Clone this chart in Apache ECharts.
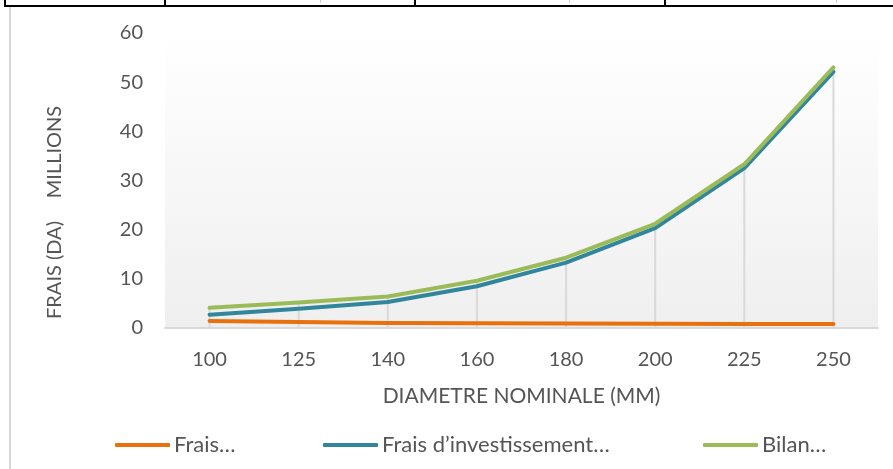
<!DOCTYPE html>
<html>
<head>
<meta charset="utf-8">
<script src="https://cdn.jsdelivr.net/npm/echarts@6/dist/echarts.min.js"></script>
<style>
  html, body { margin: 0; padding: 0; background: #ffffff; }
  #chart { width: 893px; height: 469px; }
</style>
</head>
<body>
<div id="chart"></div>
<script>
// Nominal diameters (mm)
const diameters = ['100', '125', '140', '160', '180', '200', '225', '250'];

// Costs in millions of DA
const fraisExploitation = [1.4, 1.2, 1.0, 0.95, 0.9, 0.85, 0.8, 0.8];
const fraisInvestissement = [2.7, 3.9, 5.3, 8.5, 13.3, 20.3, 32.5, 52.1];
const bilan = [4.1, 5.2, 6.4, 9.6, 14.3, 21.2, 33.3, 53.0];

const seriesNames = ['Frais…', 'Frais d’investissement…', 'Bilan…'];
const seriesColors = ['#e8710d', '#31859c', '#9bbb59'];

const yTicks = { min: 0, max: 60, interval: 10 };

const FONT = 'Lato';
const TEXT = '#555555';

const chart = echarts.init(document.getElementById('chart'), null, { renderer: 'canvas' });

const legendPos = [115, 323, 703];

chart.setOption({
  animation: false,
  textStyle: { fontFamily: FONT },
  grid: { left: 165, right: 15, top: 33, bottom: 141, show: true, borderWidth: 0,
    backgroundColor: new echarts.graphic.LinearGradient(0, 0, 0, 1, [
      { offset: 0, color: '#ffffff' },
      { offset: 1, color: '#efefef' }
    ]) },
  legend: seriesNames.map((name, i) => ({
    data: [name],
    left: legendPos[i],
    top: 434,
    icon: 'roundRect',
    itemWidth: 55,
    itemHeight: 4,
    itemGap: 0,
    padding: 0,
    textStyle: { fontFamily: FONT, fontSize: 22, color: TEXT, padding: [0, 0, 0, -1] }
  })),
  xAxis: {
    type: 'category',
    data: diameters,
    boundaryGap: true,
    name: 'DIAMETRE NOMINALE (MM)',
    nameLocation: 'middle',
    nameGap: 58,
    nameTextStyle: { fontFamily: FONT, fontSize: 21, color: TEXT },
    axisLine: { show: true, lineStyle: { color: '#d9d9d9', width: 2 } },
    axisTick: { show: false },
    axisLabel: { margin: 22, fontFamily: FONT, fontSize: 20, color: TEXT },
    splitLine: { show: false }
  },
  yAxis: {
    type: 'value',
    min: yTicks.min,
    max: yTicks.max,
    interval: yTicks.interval,
    axisLine: { show: false },
    axisTick: { show: false },
    splitLine: { show: false },
    axisLabel: { margin: 22, fontFamily: FONT, fontSize: 20, color: TEXT }
  },
  graphic: [
    // frame lines above and left of the chart
    { type: 'rect', shape: { x: 4, y: 5, width: 889, height: 2 }, style: { fill: '#000' }, silent: true },
    { type: 'rect', shape: { x: 4, y: 0, width: 2, height: 7 }, style: { fill: '#000' }, silent: true },
    { type: 'rect', shape: { x: 164, y: 0, width: 2, height: 6 }, style: { fill: '#000' }, silent: true },
    { type: 'rect', shape: { x: 414, y: 0, width: 2, height: 6 }, style: { fill: '#000' }, silent: true },
    { type: 'rect', shape: { x: 664, y: 0, width: 2, height: 6 }, style: { fill: '#000' }, silent: true },
    { type: 'rect', shape: { x: 320, y: 0, width: 1, height: 3 }, style: { fill: '#cfcfcf' }, silent: true },
    { type: 'rect', shape: { x: 569, y: 0, width: 1, height: 3 }, style: { fill: '#cfcfcf' }, silent: true },
    { type: 'rect', shape: { x: 836, y: 0, width: 1, height: 3 }, style: { fill: '#cfcfcf' }, silent: true },
    { type: 'rect', shape: { x: 9, y: 7, width: 2, height: 462 }, style: { fill: '#d9d9d9' }, silent: true },
    // y axis titles
    { type: 'text', x: 55, y: 270, rotation: Math.PI / 2,
      style: { text: 'FRAIS (DA)', font: '20px ' + FONT, fill: TEXT, align: 'center', verticalAlign: 'middle' } },
    { type: 'text', x: 55, y: 152, rotation: Math.PI / 2,
      style: { text: 'MILLIONS', font: '20px ' + FONT, fill: TEXT, align: 'center', verticalAlign: 'middle' } }
  ],
  series: [
    {
      // drop lines from the highest curve down to the axis
      name: 'drop',
      type: 'bar',
      data: bilan,
      barWidth: 2,
      silent: true,
      z: 1,
      itemStyle: { color: '#d9d9d9' }
    },
    {
      name: seriesNames[0], type: 'line', data: fraisExploitation,
      showSymbol: false, symbol: 'none', z: 3,
      lineStyle: { color: seriesColors[0], width: 4, cap: 'round', join: 'round' },
      itemStyle: { color: seriesColors[0] }
    },
    {
      name: seriesNames[1], type: 'line', data: fraisInvestissement,
      showSymbol: false, symbol: 'none', z: 3,
      lineStyle: { color: seriesColors[1], width: 4, cap: 'round', join: 'round' },
      itemStyle: { color: seriesColors[1] }
    },
    {
      name: seriesNames[2], type: 'line', data: bilan,
      showSymbol: false, symbol: 'none', z: 4,
      lineStyle: { color: seriesColors[2], width: 4, cap: 'round', join: 'round' },
      itemStyle: { color: seriesColors[2] }
    }
  ]
});
</script>
</body>
</html>
